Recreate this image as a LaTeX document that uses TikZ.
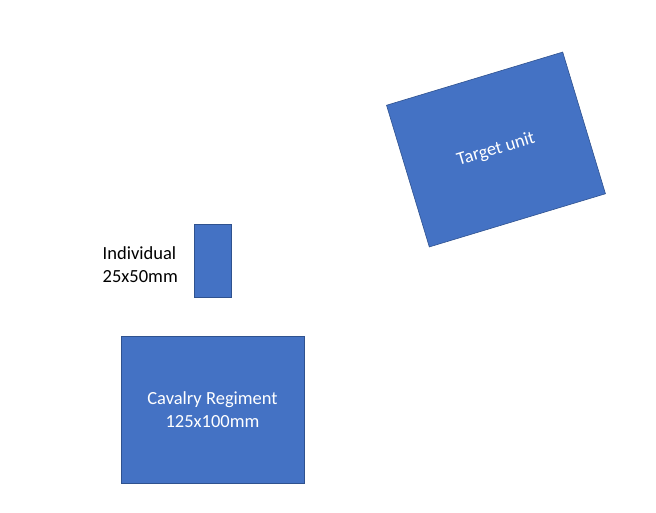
\documentclass[tikz,border=0pt]{standalone}
\usepackage{fontspec}
\setmainfont{Carlito}
\definecolor{unitfill}{HTML}{4472C4}
\definecolor{unitline}{HTML}{2F528F}
\begin{document}
\begin{tikzpicture}[x=1pt,y=-1pt,
  unit/.style={draw=unitline, line width=0.6pt, fill=unitfill, text=white,
    align=center, inner sep=0pt, font=\fontsize{18.5}{22.8}\selectfont},
  lbl/.style={align=left, inner sep=0pt, font=\fontsize{18.5}{22.8}\selectfont}]
\useasboundingbox (0,0) rectangle (656,512);
\node[unit, minimum width=37pt, minimum height=73pt] (ind) at (212.5,260.5) {};
\node[lbl, anchor=west] (indlbl) at (102.5,265) {Individual\\25x50mm};
\node[unit, minimum width=183pt, minimum height=147pt] (cav) at (212.5,409.5) {Cavalry Regiment\\125x100mm};
\node[unit, minimum width=184pt, minimum height=148pt, rotate=16.8] (target) at (496,149.5) {Target unit};
\end{tikzpicture}
\end{document}
